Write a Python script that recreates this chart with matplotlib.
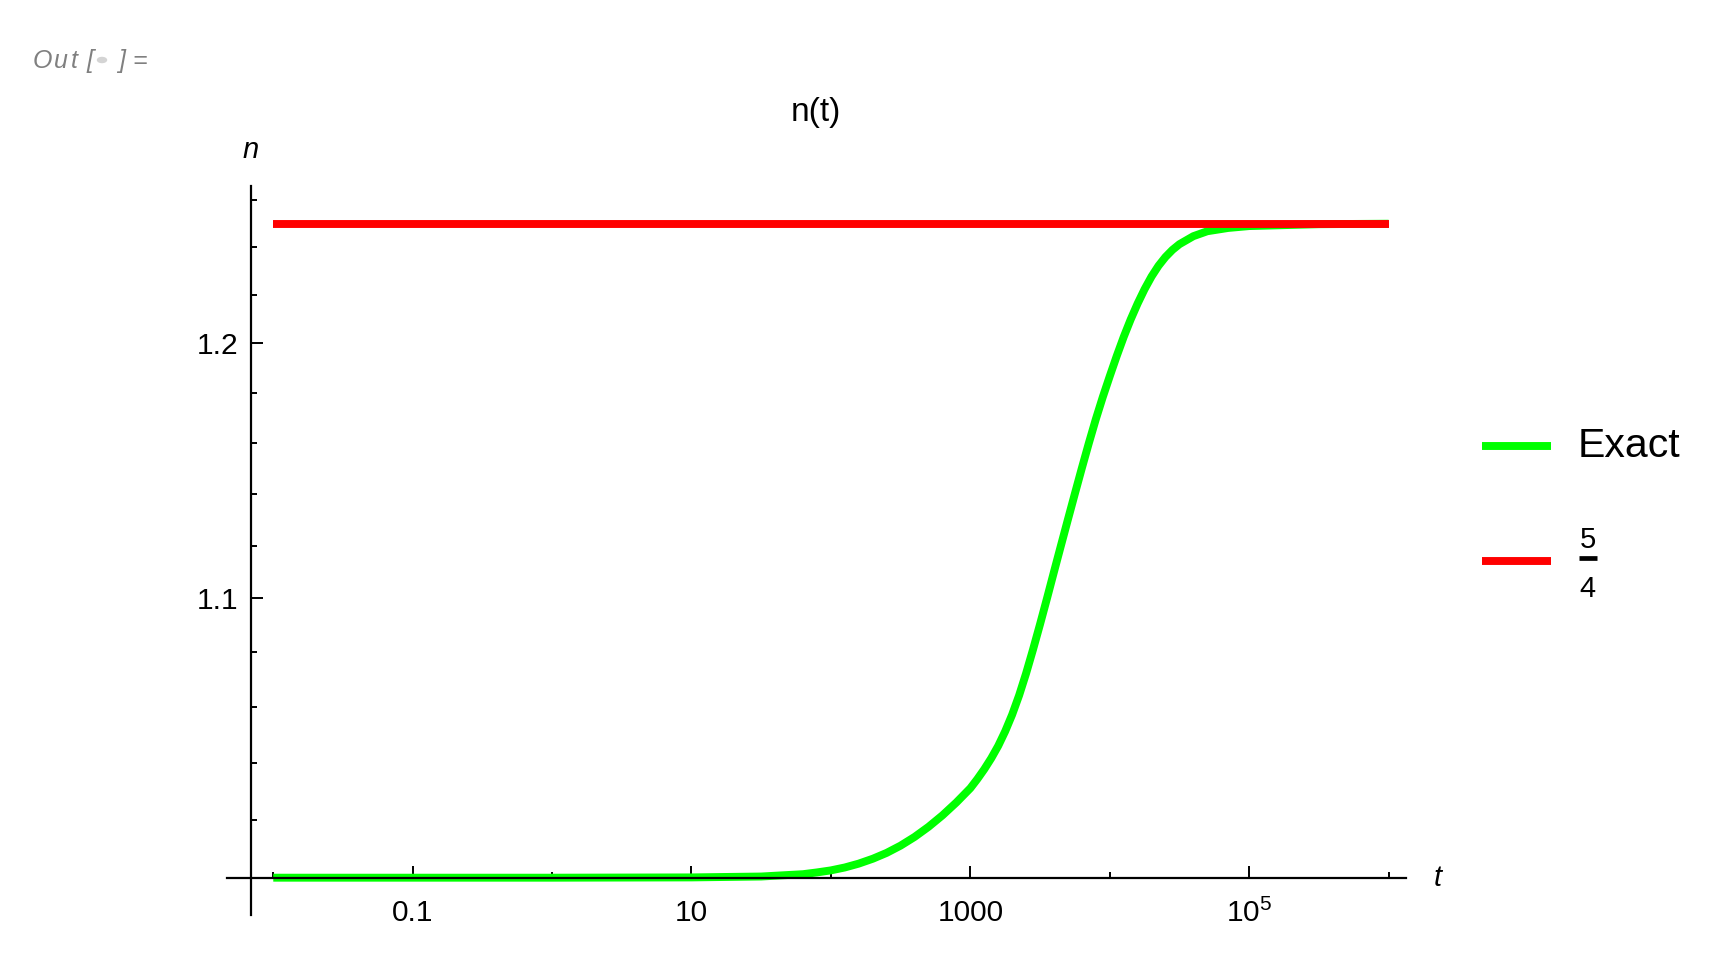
import matplotlib
matplotlib.use("Agg")
import matplotlib.pyplot as plt
from matplotlib.lines import Line2D
from matplotlib.ticker import FixedLocator, FixedFormatter, NullFormatter

# ---- data ----
t_exact = [0.01, 0.1, 1, 10, 31.6, 63.1, 79.4, 100, 126, 158, 200, 251, 316, 398,
           501, 631, 794, 1000, 1122, 1259, 1413, 1585, 1778, 1995, 2239, 2512, 2818,
           3162, 3548, 3981, 4467, 5012, 5623, 6310, 7079, 7943, 8913, 10000, 11220,
           12589, 14125, 15849, 17783, 19953, 22387, 25119, 28184, 31623, 39811,
           50119, 70795, 100000, 316228, 1000000]
n_exact = [1.0000, 1.0000, 1.0000, 1.0001, 1.0004, 1.0012, 1.0018, 1.0025, 1.0035,
           1.0048, 1.0065, 1.0085, 1.0110, 1.0140, 1.0175, 1.0215, 1.0260, 1.0310,
           1.0342, 1.0377, 1.0416, 1.0460, 1.0512, 1.0572, 1.0642, 1.0722, 1.0810,
           1.0903, 1.1000, 1.1100, 1.1200, 1.1300, 1.1400, 1.1500, 1.1598, 1.1693,
           1.1782, 1.1866, 1.1948, 1.2026, 1.2098, 1.2164, 1.2224, 1.2277, 1.2322,
           1.2359, 1.2389, 1.2413, 1.2447, 1.2468, 1.2482, 1.2490, 1.2498, 1.2500]
t_ref = [0.01, 1000000]
n_ref = [1.25, 1.25]

x_major = [0.1, 10, 1000, 100000]
x_major_labels = ["0.1", "10", "1000", r"$10^5$"]
x_minor = [0.01, 1, 100, 10000, 1000000]
y_major = [1.1, 1.2]
y_major_labels = ["1.1", "1.2"]
y_minor = [1.02, 1.04, 1.06, 1.08, 1.12, 1.14, 1.16, 1.18, 1.22, 1.24, 1.26]

legend_labels = ["Exact", "5", "4"]
title = "n(t)"

FONT = "Liberation Sans"
plt.rcParams["font.family"] = [FONT, "DejaVu Sans"]
plt.rcParams["mathtext.fontset"] = "custom"
plt.rcParams["mathtext.rm"] = FONT
plt.rcParams["mathtext.it"] = FONT + ":italic"

W, H = 1717, 957
fig = plt.figure(figsize=(W / 100, H / 100), dpi=100)

def fx(px):
    return px / W

def fy(py):
    return (H - py) / H

# axes box in pixels
L, R, T, B = 226.7, 1405.7, 186.0, 915.0
ax = fig.add_axes([fx(L), fy(B), (R - L) / W, (B - T) / H])
ax.set_xscale("log")
ax.set_yscale("log")
ax.set_xlim(10 ** -2.334, 10 ** 6.123)
ax.set_ylim(10 ** -0.005528, 10 ** 0.10250)

GREEN = (0, 1, 0)
RED = (1, 0, 0)
lw = 5.7
ax.plot(t_exact, n_exact, color=GREEN, lw=lw, solid_capstyle="butt",
        solid_joinstyle="round", zorder=3, clip_on=False)
ax.plot(t_ref, n_ref, color=RED, lw=lw, solid_capstyle="butt", zorder=4, clip_on=False)

for s in ["top", "right"]:
    ax.spines[s].set_visible(False)
ax.spines["bottom"].set_position(("data", 1.0))
ax.spines["left"].set_position(("data", 10 ** -2.158))
for s in ["bottom", "left"]:
    ax.spines[s].set_linewidth(1.6)
    ax.spines[s].set_zorder(5)

ax.xaxis.set_major_locator(FixedLocator(x_major))
ax.xaxis.set_major_formatter(FixedFormatter(x_major_labels))
ax.xaxis.set_minor_locator(FixedLocator(x_minor))
ax.xaxis.set_minor_formatter(NullFormatter())
ax.yaxis.set_major_locator(FixedLocator(y_major))
ax.yaxis.set_major_formatter(FixedFormatter(y_major_labels))
ax.yaxis.set_minor_locator(FixedLocator(y_minor))
ax.yaxis.set_minor_formatter(NullFormatter())

ax.tick_params(axis="both", which="major", direction="in", length=8.4, width=1.4,
               labelsize=21.5, color="black")
ax.tick_params(axis="both", which="minor", direction="in", length=4.1, width=1.4,
               color="black")
ax.tick_params(axis="x", which="major", pad=15)
ax.tick_params(axis="y", which="major", pad=9)
ax.patch.set_visible(False)

# axis labels
fig.text(fx(251), fy(150), "n", fontsize=21, style="italic", ha="center", va="center")
fig.text(fx(1438), fy(878), "t", fontsize=21, style="italic", ha="center", va="center")

# title
fig.text(fx(816), fy(112), title, fontsize=24, ha="center", va="center")

# legend
fig.add_artist(Line2D([fx(1481.7), fx(1551)], [fy(445.7), fy(445.7)], color=GREEN,
                      lw=lw, solid_capstyle="butt", transform=fig.transFigure))
fig.add_artist(Line2D([fx(1481.7), fx(1551)], [fy(560.7), fy(560.7)], color=RED,
                      lw=lw, solid_capstyle="butt", transform=fig.transFigure))
fig.text(fx(1577.7), fy(457.3), legend_labels[0], fontsize=29.5, ha="left", va="baseline")
fig.text(fx(1587.5), fy(548), legend_labels[1], fontsize=21, ha="center", va="baseline")
fig.text(fx(1587.5), fy(596.7), legend_labels[2], fontsize=21, ha="center", va="baseline")
fig.add_artist(Line2D([fx(1578.5), fx(1596.5)], [fy(558.3), fy(558.3)], color="black",
                      lw=3.4, solid_capstyle="butt", transform=fig.transFigure))

# "Out[ ]=" label
gray = (0.5, 0.5, 0.5)
for ch, px in [("O", 42.5), ("u", 61), ("t", 74), ("[", 90), ("]", 121.5), ("=", 140)]:
    fig.text(fx(px), fy(67.7), ch, fontsize=18, style="italic", color=gray,
             ha="center", va="baseline")
fig.add_artist(plt.Circle((fx(102), fy(60)), 4.5 / W, color=(0.83, 0.83, 0.83),
                          transform=fig.transFigure))

fig.savefig("out.png", dpi=100)
